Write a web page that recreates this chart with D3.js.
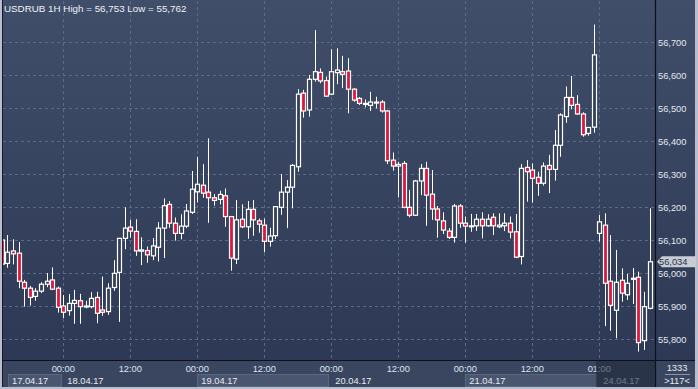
<!DOCTYPE html>
<html>
<head>
<meta charset="utf-8">
<script src="https://cdn.jsdelivr.net/npm/d3@7"></script>
<style>
  html, body { margin: 0; padding: 0; background: #b8becb; }
  text { font-family: "Liberation Sans", Arial, sans-serif; }
</style>
</head>
<body>
<div id="chart"></div>
<script>
// trading sessions shown (hour of first and last bar)
const sessions = [
  { day: '17.04.17', first: 13, last: 23 },
  { day: '18.04.17', first: 0, last: 23 },
  { day: '19.04.17', first: 0, last: 23 },
  { day: '20.04.17', first: 0, last: 23 },
  { day: '21.04.17', first: 0, last: 23 },
  { day: '24.04.17', first: 1, last: 10 }
];

// USDRUB 1H candles
const open = [56100, 56029, 56067, 56060, 55972, 55954, 55929, 55945, 55966, 55979, 55954,
  55900, 55886, 55908, 55916, 55897, 55898, 55926, 55888, 55883, 55956, 56002, 56105, 56139, 56126, 56066, 56068, 56052, 56078, 56136, 56208, 56151, 56120, 56142, 56184,
  56246, 56266, 56245, 56228, 56223, 56234, 56171, 56042, 56163, 56140, 56193, 56158, 56145, 56096, 56113, 56199, 56245, 56260, 56322, 56545, 56494, 56587, 56608, 56583,
  56542, 56607, 56610, 56612, 56557, 56529, 56511, 56508, 56515, 56518, 56491, 56342, 56324, 56332, 56199, 56175, 56279, 56317, 56239, 56194, 56158, 56127, 56108, 56203,
  56151, 56142, 56143, 56163, 56143, 56169, 56140, 56143, 56151, 56125, 56050, 56320, 56312, 56290, 56272, 56326, 56314, 56387, 56474, 56532, 56511, 56482, 56423, 56442,
  56120, 56145, 55975, 55887, 55978, 55934, 55981, 55987, 55795, 55893];
const high = [56115, 56115, 56102, 56094, 55979, 55961, 55954, 55972, 56000, 56017, 55959,
  55933, 55936, 55949, 55937, 55916, 55942, 55943, 55989, 55969, 56039, 56105, 56199, 56161, 56163, 56108, 56080, 56106, 56154, 56226, 56218, 56168, 56178, 56209, 56309,
  56352, 56330, 56408, 56239, 56249, 56256, 56173, 56221, 56208, 56218, 56221, 56165, 56165, 56137, 56203, 56300, 56282, 56330, 56557, 56555, 56600, 56736, 56620, 56595,
  56678, 56681, 56658, 56651, 56560, 56533, 56526, 56549, 56534, 56524, 56494, 56365, 56337, 56339, 56252, 56282, 56330, 56337, 56312, 56203, 56184, 56136, 56209, 56209,
  56171, 56179, 56179, 56184, 56178, 56181, 56181, 56181, 56171, 56179, 56330, 56342, 56332, 56307, 56335, 56358, 56433, 56484, 56565, 56597, 56539, 56487, 56442, 56753,
  56176, 56181, 56115, 56070, 56014, 55997, 56015, 56004, 55943, 56196];
const low = [56010, 56016, 56026, 55954, 55898, 55901, 55916, 55939, 55957, 55948, 55880,
  55863, 55871, 55846, 55846, 55893, 55893, 55848, 55870, 55873, 55946, 55852, 56072, 56107, 56052, 56024, 56031, 56039, 56035, 56045, 56137, 56098, 56102, 56136, 56179,
  56214, 56228, 56152, 56204, 56208, 56140, 56007, 56027, 56136, 56104, 56113, 56122, 56063, 56080, 56103, 56176, 56136, 56196, 56307, 56471, 56474, 56580, 56575, 56534,
  56539, 56572, 56560, 56484, 56519, 56509, 56502, 56491, 56499, 56486, 56330, 56310, 56229, 56196, 56169, 56173, 56236, 56143, 56161, 56107, 56118, 56103, 56092, 56137,
  56092, 56125, 56128, 56105, 56140, 56115, 56136, 56127, 56105, 56045, 56026, 56216, 56213, 56234, 56265, 56242, 56280, 56352, 56455, 56496, 56479, 56413, 56416, 56425,
  56095, 55839, 55825, 55802, 55913, 55918, 55906, 55762, 55767, 55890];
const close = [56027, 56063, 56058, 55975, 55954, 55926, 55945, 55966, 55975, 55951, 55896,
  55881, 55908, 55917, 55898, 55900, 55923, 55878, 55881, 55954, 55999, 56105, 56136, 56127, 56067, 56070, 56055, 56082, 56136, 56204, 56151, 56120, 56142, 56188, 56254,
  56269, 56242, 56228, 56220, 56238, 56171, 56045, 56161, 56140, 56193, 56161, 56148, 56096, 56112, 56201, 56245, 56260, 56326, 56542, 56491, 56587, 56610, 56582, 56536,
  56610, 56615, 56602, 56557, 56524, 56514, 56514, 56518, 56518, 56491, 56340, 56324, 56329, 56199, 56175, 56279, 56317, 56236, 56194, 56161, 56130, 56108, 56203, 56151,
  56142, 56143, 56163, 56143, 56163, 56143, 56145, 56151, 56124, 56048, 56317, 56307, 56287, 56272, 56324, 56314, 56387, 56479, 56532, 56508, 56482, 56419, 56441, 56661,
  56155, 55969, 55902, 55972, 55939, 55969, 55984, 55789, 55898, 56034];

const priceTicks = [55800, 55900, 56000, 56100, 56200, 56300, 56400, 56500, 56600, 56700];
const title = 'USDRUB 1H High = 56,753 Low = 55,762';
const lastPrice = 56034;
const barCount = '1333';
const visibleBars = '>117<';

const bars = [];
sessions.forEach((s, si) => {
  for (let h = s.first; h <= s.last; h++) bars.push({ day: s.day, session: si, hour: h });
});
bars.forEach((b, k) => { b.o = open[k]; b.h = high[k]; b.l = low[k]; b.c = close[k]; });

const W = 698, H = 389;
const plot = { left: 3, right: 655, top: 1, bottom: 360 };

const svg = d3.select('#chart').append('svg')
  .attr('width', W).attr('height', H)
  .style('display', 'block');

const defs = svg.append('defs');
const grad = defs.append('linearGradient').attr('id', 'bg')
  .attr('x1', 0).attr('y1', 0).attr('x2', 0).attr('y2', 1);
grad.append('stop').attr('offset', '0%').attr('stop-color', '#414e69');
grad.append('stop').attr('offset', '100%').attr('stop-color', '#2c3853');
defs.append('clipPath').attr('id', 'clip').append('rect')
  .attr('x', plot.left).attr('y', plot.top)
  .attr('width', plot.right - plot.left).attr('height', plot.bottom - plot.top);

// frame and backgrounds
svg.append('rect').attr('width', W).attr('height', H).attr('fill', '#b8becb');
svg.append('rect').attr('x', 2).attr('y', 0).attr('width', 693).attr('height', 387).attr('fill', 'url(#bg)');
svg.append('rect').attr('x', 3).attr('y', 361).attr('width', 692).attr('height', 26).attr('fill', '#3a4660');

const x = d3.scaleLinear().domain([11, 107]).range([63.3, 599.3]);
const y = d3.scaleLinear().domain([55800, 56700]).range([339, 42]);

// grid
const timeTicks = bars.map((b, k) => ({ b, k }))
  .filter(({ b, k }) => b.hour % 12 === 0 || (k > 0 && bars[k - 1].day !== b.day));

svg.append('g').selectAll('line').data(priceTicks).join('line')
  .attr('x1', plot.left).attr('x2', plot.right)
  .attr('y1', d => Math.round(y(d)) + 0.5).attr('y2', d => Math.round(y(d)) + 0.5)
  .attr('stroke', '#5a6a88').attr('stroke-dasharray', '3,3');
svg.append('g').selectAll('line').data(timeTicks).join('line')
  .attr('x1', d => Math.round(x(d.k)) + 0.5).attr('x2', d => Math.round(x(d.k)) + 0.5)
  .attr('y1', plot.top).attr('y2', plot.bottom)
  .attr('stroke', '#5a6a88').attr('stroke-dasharray', '3,3');

// candles
const candles = svg.append('g').attr('clip-path', 'url(#clip)')
  .selectAll('g').data(bars).join('g');
candles.append('line')
  .attr('x1', (d, k) => Math.round(x(k)) + 0.5).attr('x2', (d, k) => Math.round(x(k)) + 0.5)
  .attr('y1', d => y(d.h)).attr('y2', d => y(d.l))
  .attr('stroke', '#ffffff').attr('stroke-width', 1);
candles.append('rect')
  .attr('x', (d, k) => Math.round(x(k)) - 1.5)
  .attr('width', 4)
  .attr('y', d => y(Math.max(d.o, d.c)))
  .attr('height', d => Math.max(1, Math.abs(y(d.o) - y(d.c))))
  .attr('fill', d => d.c < d.o ? '#e0173d' : '#34405b')
  .attr('stroke', '#ffffff').attr('stroke-width', 1.2);

// separators
svg.append('line').attr('x1', 655.5).attr('x2', 655.5).attr('y1', 0).attr('y2', 387)
  .attr('stroke', '#0d1018').attr('stroke-width', 1.2);
svg.append('line').attr('x1', 2).attr('x2', 695).attr('y1', 360.5).attr('y2', 360.5)
  .attr('stroke', '#0d1018').attr('stroke-width', 1.2);
svg.append('line').attr('x1', 2.5).attr('x2', 2.5).attr('y1', 0).attr('y2', 387)
  .attr('stroke', '#141a26');

// right price axis
svg.append('g').selectAll('text').data(priceTicks).join('text')
  .attr('x', 658).attr('y', d => y(d) + 3.5)
  .attr('font-size', 9.3).attr('fill', '#e1e6f0')
  .text(d => d3.format(',')(d));

// last price tag
const yl = y(lastPrice);
svg.append('path')
  .attr('d', `M657,${yl} L662,${yl - 5.5} L696,${yl - 5.5} L696,${yl + 5.5} L662,${yl + 5.5} Z`)
  .attr('fill', '#c8ccd5');
svg.append('text').attr('x', 659).attr('y', yl + 3.5)
  .attr('font-size', 9.3).attr('fill', '#283247')
  .text(d3.format(',')(lastPrice));

// date boxes
const dateBoxes = sessions.map((s, si) => {
  const ks = bars.map((b, k) => k).filter(k => bars[k].session === si);
  const start = Math.max(8, x(ks[0]));
  const end = si < sessions.length - 1 ? Math.min(x(ks[ks.length - 1] + 1), x(ks[ks.length - 1]) + 2.8) : plot.right;
  return { day: s.day, start: start, end: end, shade: si % 2 === 0 };
});
svg.append('g').selectAll('rect').data(dateBoxes.filter(d => d.shade && d.day !== '24.04.17')).join('rect')
  .attr('x', d => Math.round(d.start) + 0.5).attr('y', 374.5)
  .attr('width', d => Math.round(d.end - d.start)).attr('height', 12)
  .attr('fill', '#4a566f').attr('stroke', '#5b6780');
svg.append('g').selectAll('text').data(dateBoxes).join('text')
  .attr('x', d => d.start + 4).attr('y', 384)
  .attr('font-size', 9.3).attr('fill', '#e6ebf3')
  .text(d => d.day);

// time labels
svg.append('g').selectAll('text').data(timeTicks).join('text')
  .attr('x', d => x(d.k)).attr('y', 372)
  .attr('text-anchor', 'middle')
  .attr('font-size', 9.3).attr('fill', '#d9e3f3')
  .text(d => d3.format('02')(d.b.hour) + ':00');

// dim overlay on the current session in the axis
const lastBox = dateBoxes[dateBoxes.length - 1];
svg.append('rect').attr('x', lastBox.start - 3.5).attr('y', 361)
  .attr('width', plot.right - lastBox.start + 3.5).attr('height', 26)
  .attr('fill', '#1e283b').attr('opacity', 0.6);

// title
svg.append('text').attr('x', 4).attr('y', 11.5)
  .attr('font-size', 9.8).attr('fill', '#eef1f7')
  .text(title);

// bottom right box
svg.append('text').attr('x', 677).attr('y', 370.5).attr('text-anchor', 'middle')
  .attr('font-size', 9.3).attr('fill', '#e6ebf3').text(barCount);
svg.append('line').attr('x1', 665).attr('x2', 690).attr('y1', 374.5).attr('y2', 374.5)
  .attr('stroke', '#8b95a9');
svg.append('text').attr('x', 677).attr('y', 384).attr('text-anchor', 'middle')
  .attr('font-size', 9.3).attr('fill', '#e6ebf3').text(visibleBars);
</script>
</body>
</html>
